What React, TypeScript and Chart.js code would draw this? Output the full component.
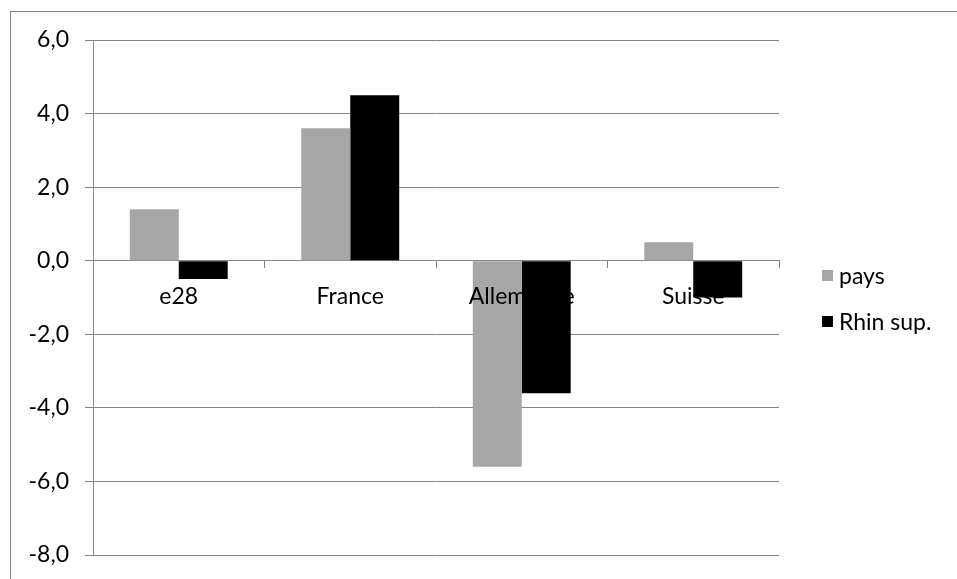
import React, { useEffect, useRef } from "react";
import { Chart, registerables } from "chart.js";

Chart.register(...registerables);

const categories = ["e28", "France", "Allemagne", "Suisse"];
const paysValues = [1.4, 3.6, -5.6, 0.5];
const rhinValues = [-0.5, 4.5, -3.6, -1.0];
const seriesLabels = ["pays", "Rhin sup."];
const seriesColors = ["#a6a6a6", "#000000"];
const yMin = -8;
const yMax = 6;
const yStep = 2;

const FONT = "Lato, 'Open Sans', sans-serif";
const FS = 23;
const W = 957;
const H = 579;

export default function App() {
  const ref = useRef<HTMLCanvasElement | null>(null);

  useEffect(() => {
    if (!ref.current) return;
    const chart = new Chart(ref.current, {
      type: "bar",
      data: {
        labels: categories,
        datasets: [
          {
            label: seriesLabels[0],
            data: paysValues,
            backgroundColor: seriesColors[0],
            borderWidth: 0,
            categoryPercentage: 0.571,
            barPercentage: 1,
          },
          {
            label: seriesLabels[1],
            data: rhinValues,
            backgroundColor: seriesColors[1],
            borderWidth: 0,
            categoryPercentage: 0.571,
            barPercentage: 1,
          },
        ],
      },
      options: {
        responsive: false,
        animation: false,
        devicePixelRatio: 1,
        layout: { padding: { left: 0, right: W - 779, top: 40, bottom: H - 555 } },
        plugins: { legend: { display: false }, tooltip: { enabled: false }, title: { display: false } },
        scales: {
          x: {
            position: { y: 0 } as any,
            grid: { drawOnChartArea: false, drawTicks: true, tickLength: 7, color: "#868686", offset: true },
            border: { color: "#868686", width: 1 },
            ticks: {
              font: { family: FONT, size: FS },
              color: "#000",
              padding: 15,
              maxRotation: 0,
              autoSkip: false,
              z: 1,
            } as any,
          },
          y: {
            min: yMin,
            max: yMax,
            grid: { color: "#868686", tickLength: 8, drawTicks: true },
            border: { color: "#868686", width: 1 },
            ticks: {
              stepSize: yStep,
              font: { family: FONT, size: FS },
              color: "#000",
              padding: 16,
              callback: (v: any) => Number(v).toFixed(1).replace(".", ","),
            },
            afterFit: (s: any) => {
              s.width = 93;
              s.paddingTop = 0;
              s.paddingBottom = 0;
            },
          },
        },
      },
    });
    return () => chart.destroy();
  }, []);

  return (
    <div style={{ position: "fixed", left: 0, top: 0, width: W, height: H, overflow: "hidden", background: "#fff" }}>
      <div
        style={{
          position: "absolute",
          left: 10,
          top: 11,
          width: 2000,
          height: 2000,
          border: "1px solid #868686",
        }}
      />
      <canvas ref={ref} width={W} height={H} style={{ position: "absolute", left: 0, top: 0, display: "block" }} />
      {seriesLabels.map((lab, i) => (
        <div
          key={lab}
          style={{
            position: "absolute",
            left: 822,
            top: 261 + i * 46,
            height: 28,
            display: "flex",
            alignItems: "center",
            fontFamily: FONT,
            fontSize: FS,
            color: "#000",
            whiteSpace: "nowrap",
          }}
        >
          <span style={{ display: "inline-block", width: 11, height: 11, background: seriesColors[i], marginRight: 6 }} />
          <span>{lab}</span>
        </div>
      ))}
    </div>
  );
}
